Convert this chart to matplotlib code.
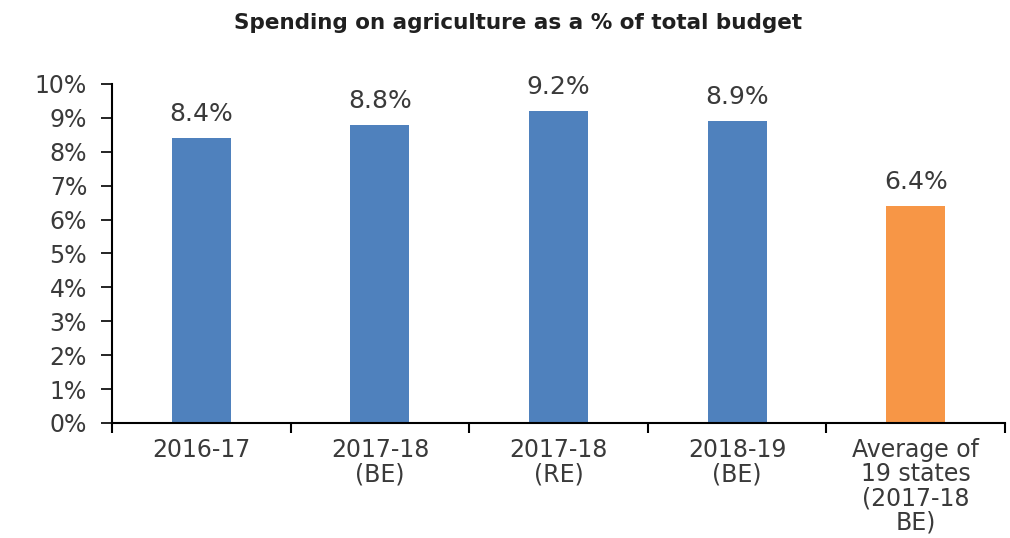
import matplotlib
matplotlib.use("Agg")
import matplotlib.pyplot as plt
from matplotlib.ticker import FixedLocator, PercentFormatter

categories = ["2016-17", "2017-18\n(BE)", "2017-18\n(RE)", "2018-19\n(BE)",
              "Average of\n19 states\n(2017-18\nBE)"]
values = [8.4, 8.8, 9.2, 8.9, 6.4]
labels = ["8.4%", "8.8%", "9.2%", "8.9%", "6.4%"]
colors = ["#4F81BD", "#4F81BD", "#4F81BD", "#4F81BD", "#F79646"]

plt.rcParams['font.family'] = ['DejaVu Sans']
txt = "#3a3a3a"

fig = plt.figure(figsize=(10.10, 5.38), dpi=100)
ax = fig.add_axes([0.111, 0.2138, 0.884, 0.6301])

x = list(range(len(categories)))
bars = ax.bar(x, values, width=0.33, color=colors)
for xi, v, lab in zip(x, values, labels):
    ax.text(xi, v + 0.35, lab, ha="center", va="bottom", fontsize=18, color=txt)

ax.set_xlim(-0.5, len(categories) - 0.5)
ax.set_ylim(0, 10)
ax.set_yticks(range(0, 11))
ax.yaxis.set_major_formatter(PercentFormatter(decimals=0))
ax.set_xticks(x)
ax.set_xticklabels(categories, fontsize=17, color=txt, linespacing=1.0)
ax.xaxis.set_minor_locator(FixedLocator([i + 0.5 for i in range(-1, len(categories))]))
ax.tick_params(axis="x", which="major", length=0, pad=11)
ax.tick_params(axis="x", which="minor", length=7, width=1.5, direction="out")
ax.tick_params(axis="y", length=8, width=1.2, direction="out", labelsize=17,
               labelcolor=txt, pad=10)

for s in ["top", "right"]:
    ax.spines[s].set_visible(False)
ax.spines["left"].set_linewidth(1.5)
ax.spines["bottom"].set_linewidth(1.5)

fig.text(0.513, 0.958, "Spending on agriculture as a % of total budget",
         ha="center", va="center", fontsize=15.5, fontweight="bold", color="#202020")

fig.savefig("out.png", dpi=100)
